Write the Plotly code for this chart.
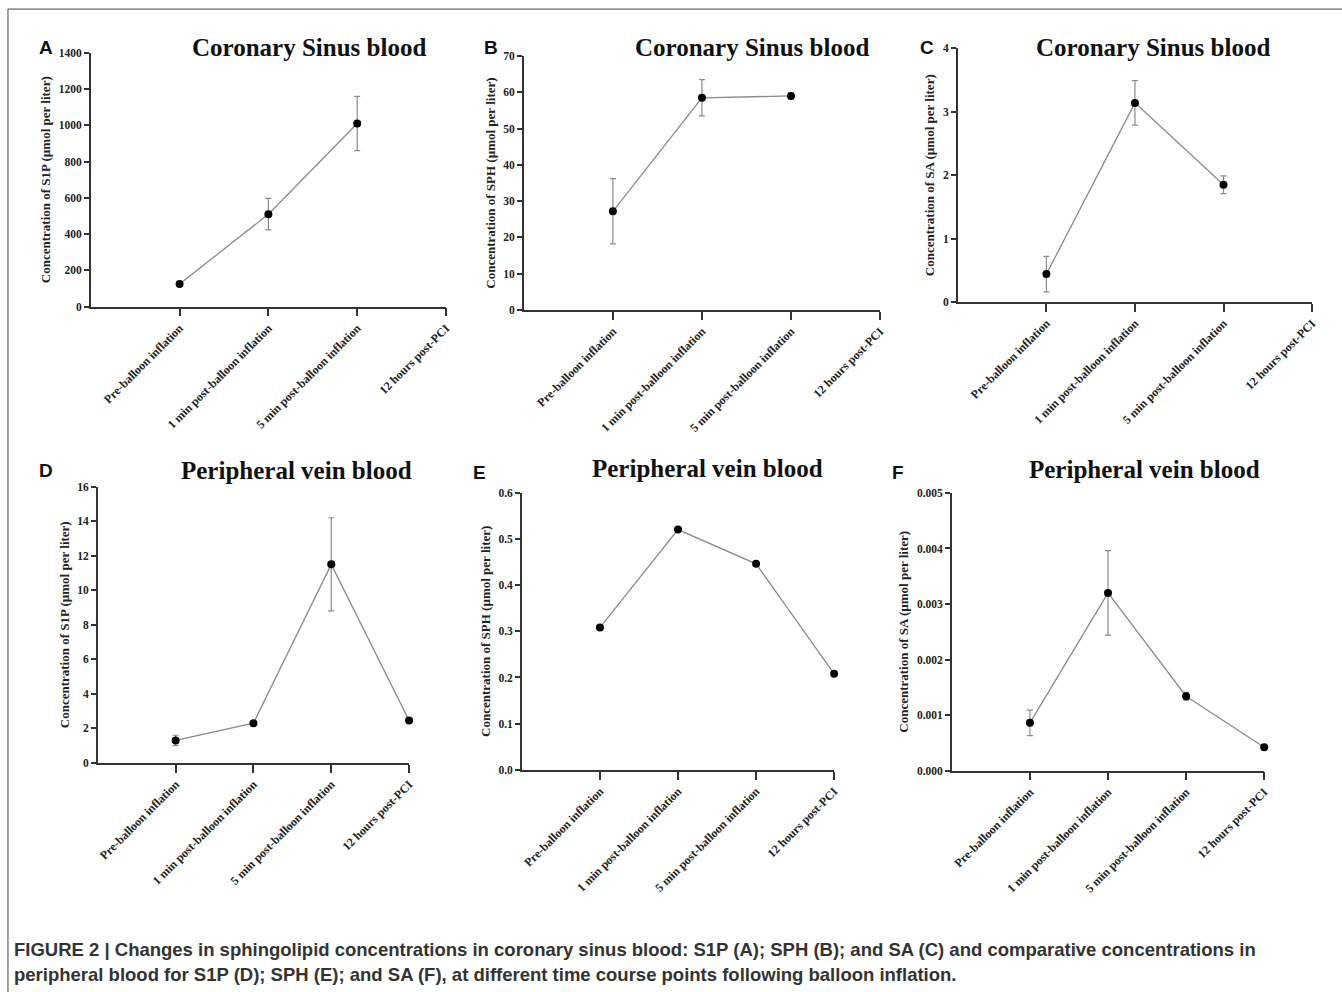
import plotly.graph_objects as go

W, H = 1342, 992

categories = ["Pre-balloon inflation", "1 min post-balloon inflation",
              "5 min post-balloon inflation", "12 hours post-PCI"]
x_pos = [1, 2, 3, 4]

# Coronary sinus blood
s1p_cs = [125, 510, 1010]
s1p_cs_err = [0, 87, 150]
sph_cs = [27.2, 58.5, 59.0]
sph_cs_err = [9.0, 5.0, 0.8]
sa_cs = [0.44, 3.14, 1.85]
sa_cs_err = [0.28, 0.35, 0.14]

# Peripheral vein blood
s1p_pv = [1.3, 2.3, 11.5, 2.45]
s1p_pv_err = [0.3, 0.05, 2.7, 0.15]
sph_pv = [0.308, 0.520, 0.446, 0.208]
sph_pv_err = [0.003, 0.003, 0.003, 0.003]
sa_pv = [0.00086, 0.0032, 0.00134, 0.00042]
sa_pv_err = [0.00023, 0.00076, 0.00007, 0.00002]


def PX(px):
    """reference pixel x -> paper fraction"""
    return min(1.0, px * 1.003 / W)


def PY(py):
    """reference pixel y -> paper fraction"""
    return max(0.0, min(1.0, 1 - (py * 1.012 - 6.0) / H))


panels = [
    dict(letter="A", title="Coronary Sinus blood", y=s1p_cs, err=s1p_cs_err,
         ytitle="Concentration of S1P (µmol per liter)", yrange=[0, 1400], dtick=200, fmt="d",
         box=(91, 447, 52.7, 306.7), tpos=(310, 47), lpos=(46, 47)),
    dict(letter="B", title="Coronary Sinus blood", y=sph_cs, err=sph_cs_err,
         ytitle="Concentration of SPH (µmol per liter)", yrange=[0, 70], dtick=10, fmt="d",
         box=(525, 882, 56, 310), tpos=(754, 47), lpos=(492, 47)),
    dict(letter="C", title="Coronary Sinus blood", y=sa_cs, err=sa_cs_err,
         ytitle="Concentration of SA (µmol per liter)", yrange=[0, 4], dtick=1, fmt="d",
         box=(960, 1315, 48.3, 302), tpos=(1156, 47), lpos=(929, 47)),
    dict(letter="D", title="Peripheral vein blood", y=s1p_pv, err=s1p_pv_err,
         ytitle="Concentration of S1P (µmol per liter)", yrange=[0, 16], dtick=2, fmt="d",
         box=(98, 410, 486.7, 763), tpos=(297, 471), lpos=(46, 471)),
    dict(letter="E", title="Peripheral vein blood", y=sph_pv, err=sph_pv_err,
         ytitle="Concentration of SPH (µmol per liter)", yrange=[0, 0.6], dtick=0.1, fmt=".1f",
         box=(523, 836, 492.7, 770), tpos=(709, 469), lpos=(481, 473)),
    dict(letter="F", title="Peripheral vein blood", y=sa_pv, err=sa_pv_err,
         ytitle="Concentration of SA (µmol per liter)", yrange=[0, 0.005], dtick=0.001, fmt=".3f",
         box=(954, 1267, 493, 770.7), tpos=(1147, 470), lpos=(900, 473)),
]

serif = "Liberation Serif, Times New Roman, serif"
sans = "Liberation Sans, Arial, sans-serif"
axis_col = "#333333"

fig = go.Figure()
annotations = []
layout_axes = {}

for i, p in enumerate(panels):
    n = i + 1
    xa = "x" if n == 1 else f"x{n}"
    ya = "y" if n == 1 else f"y{n}"
    x0, x1, y0, y1 = p["box"]
    fig.add_trace(go.Scatter(
        x=x_pos[:len(p["y"])], y=p["y"], xaxis=xa, yaxis=ya,
        mode="lines+markers", cliponaxis=False,
        line=dict(color="#8a8a8a", width=1.3),
        marker=dict(color="black", size=8),
        error_y=dict(type="data", array=p["err"], visible=True,
                     color="#8a8a8a", thickness=1.2, width=3),
        showlegend=False,
    ))
    layout_axes["xaxis" if n == 1 else f"xaxis{n}"] = dict(
        domain=[PX(x0), PX(x1)], anchor=ya, range=[0, 4],
        tickmode="array", tickvals=x_pos, ticktext=categories,
        tickangle=-45, ticks="outside", ticklen=8, tickwidth=1.5, tickcolor=axis_col,
        showline=True, linecolor=axis_col, linewidth=1.5,
        showgrid=False, zeroline=False,
        tickfont=dict(family=serif, size=12, color="#222", weight="bold"),
    )
    layout_axes["yaxis" if n == 1 else f"yaxis{n}"] = dict(
        domain=[PY(y1), PY(y0)], anchor=xa, range=p["yrange"],
        tick0=0, dtick=p["dtick"], tickformat=p["fmt"],
        ticks="outside", ticklen=5, tickwidth=1.5, tickcolor=axis_col,
        showline=True, linecolor=axis_col, linewidth=1.5,
        showgrid=False, zeroline=False,
        tickfont=dict(family=serif, size=11.5, color="#222", weight="bold"),
        title=dict(text=p["ytitle"], standoff=5,
                   font=dict(family=serif, size=13, color="#222", weight="bold")),
    )
    annotations.append(dict(
        text=p["title"], x=PX(p["tpos"][0]), y=PY(p["tpos"][1]),
        xref="paper", yref="paper", xanchor="center", yanchor="middle",
        showarrow=False, font=dict(family=serif, size=25, color="#111", weight="bold")))
    annotations.append(dict(
        text=p["letter"], x=PX(p["lpos"][0]), y=PY(p["lpos"][1]),
        xref="paper", yref="paper", xanchor="center", yanchor="middle",
        showarrow=False, font=dict(family=sans, size=19, color="#111", weight="bold")))

caption1 = ("FIGURE 2 | Changes in sphingolipid concentrations in coronary sinus blood: "
            "S1P (A); SPH (B); and SA (C) and comparative concentrations in")
caption2 = ("peripheral blood for S1P (D); SPH (E); and SA (F), at different time course "
            "points following balloon inflation.")
for txt, py in [(caption1, 950), (caption2, 975)]:
    annotations.append(dict(
        text=txt, x=PX(12), y=PY(py), xref="paper", yref="paper",
        xanchor="left", yanchor="middle", showarrow=False,
        font=dict(family=sans, size=18.5, color="#333", weight="bold")))

shapes = [
    dict(type="line", xref="paper", yref="paper", x0=PX(8), x1=1.01, y0=PY(9), y1=PY(9),
         line=dict(color="#444", width=1)),
    dict(type="line", xref="paper", yref="paper", x0=PX(8), x1=PX(8), y0=PY(9), y1=-0.01,
         line=dict(color="#444", width=1)),
]

fig.update_layout(
    width=W, height=H, margin=dict(l=0, r=0, t=0, b=0),
    paper_bgcolor="white", plot_bgcolor="white",
    annotations=annotations, shapes=shapes, **layout_axes,
)

post = ("document.body.style.margin='0';"
        "var d=document.getElementById('{plot_id}');"
        "d.style.position='absolute';d.style.left='0px';d.style.top='0px';")
fig.write_html("out.html", post_script=post, config={"displayModeBar": False})
